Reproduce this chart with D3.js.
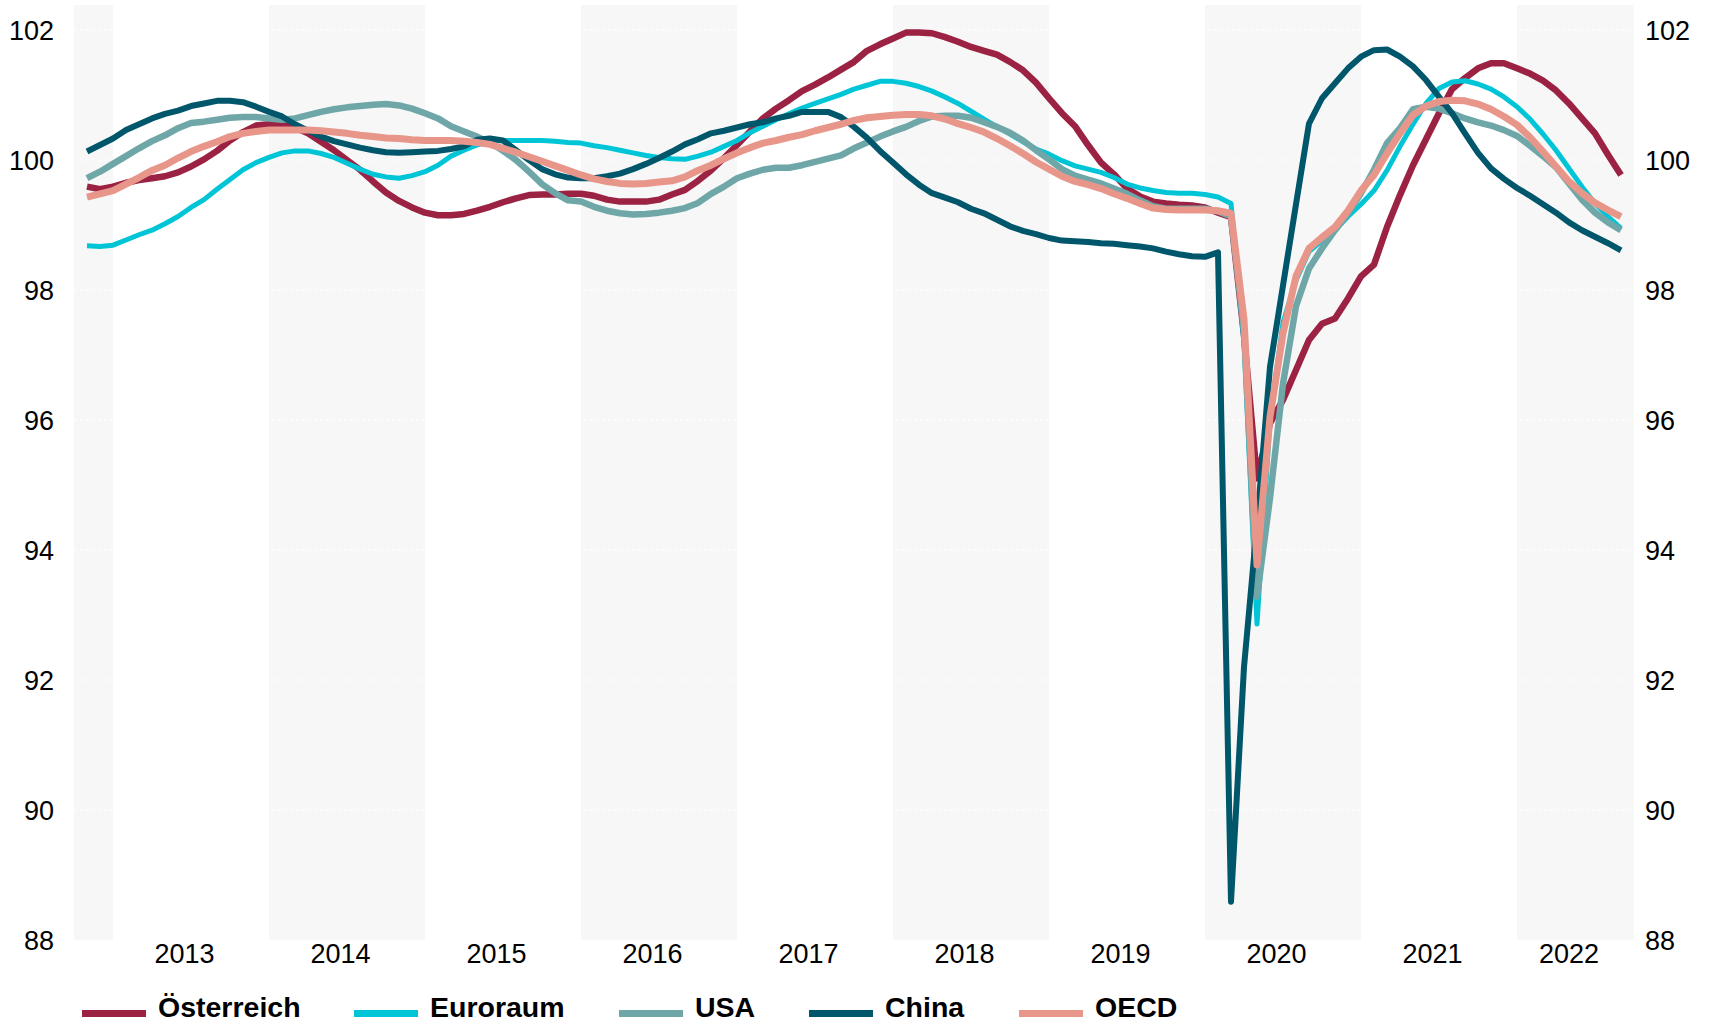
<!DOCTYPE html>
<html>
<head>
<meta charset="utf-8">
<script src="https://cdn.jsdelivr.net/npm/d3@7/dist/d3.min.js"></script>
<style>
  body { margin: 0; background: #fff; }
  text { font-family: "Liberation Sans", Arial, sans-serif; fill: #000; }
</style>
</head>
<body>
<div id="chart"></div>
<script>
// monthly points Nov 2012 .. Sep 2022
var months = d3.timeMonth.range(new Date(2012, 10, 1), new Date(2022, 9, 1));
var yearLabels = [2013, 2014, 2015, 2016, 2017, 2018, 2019, 2020, 2021, 2022];
var shadedYears = [2012, 2014, 2016, 2018, 2020, 2022];
var yTicks = [88, 90, 92, 94, 96, 98, 100, 102];

var seriesNames = ["Österreich", "Euroraum", "USA", "China", "OECD"];
var seriesColors = ["#9b2243", "#00c5d7", "#6fa7a9", "#00566a", "#e8968a"];
var seriesWidths = [6.5, 5, 6.5, 6, 7];

var oesterreich = [99.59, 99.55, 99.59, 99.65, 99.69, 99.72, 99.75, 99.81, 99.90, 100.01, 100.14, 100.30, 100.43, 100.53, 100.55, 100.55, 100.50, 100.41, 100.28, 100.15, 100.00, 99.85, 99.67, 99.50, 99.37, 99.27, 99.19, 99.15, 99.15, 99.17, 99.22, 99.28, 99.35, 99.41, 99.46, 99.47, 99.47, 99.48,
  99.48, 99.45, 99.39, 99.36, 99.36, 99.36, 99.39, 99.47, 99.54, 99.68, 99.84, 100.03, 100.23, 100.44, 100.64, 100.79, 100.92, 101.06, 101.16, 101.27, 101.39, 101.51, 101.68, 101.78, 101.87, 101.96, 101.96, 101.95, 101.89, 101.82, 101.74, 101.68, 101.62, 101.51, 101.38, 101.19, 100.95, 100.72,
  100.52, 100.23, 99.96, 99.78, 99.56, 99.44, 99.36, 99.33, 99.31, 99.30, 99.27, 99.19, 99.12,
  97.3, 95.1, 95.95, 96.31, 96.77, 97.23, 97.48, 97.56, 97.87, 98.21, 98.39, 98.97, 99.46, 99.92, 100.32, 100.72, 101.09, 101.26, 101.41, 101.49, 101.49, 101.41, 101.33, 101.22, 101.07, 100.87, 100.64, 100.41, 100.08, 99.77];

var euroraum = [98.68, 98.67, 98.69, 98.77, 98.85, 98.92, 99.02, 99.13, 99.27, 99.39, 99.55, 99.70, 99.85, 99.96, 100.04, 100.11, 100.14, 100.14, 100.10, 100.04, 99.95, 99.86, 99.78, 99.74, 99.72, 99.76, 99.82, 99.92, 100.06, 100.15, 100.23, 100.29, 100.30, 100.30, 100.30, 100.30, 100.29, 100.27,
  100.26, 100.22, 100.19, 100.15, 100.11, 100.07, 100.04, 100.02, 100.01, 100.06, 100.12, 100.21, 100.30, 100.42, 100.52, 100.62, 100.71, 100.80, 100.87, 100.94, 101.01, 101.09, 101.15, 101.21, 101.21, 101.18, 101.13, 101.06, 100.97, 100.87, 100.75, 100.63, 100.51, 100.40, 100.28, 100.17, 100.09, 99.99,
  99.91, 99.86, 99.81, 99.73, 99.63, 99.57, 99.53, 99.50, 99.49, 99.49, 99.47, 99.43, 99.33,
  97.2, 92.86, 96.0, 97.5, 98.15, 98.59, 98.76, 98.92, 99.13, 99.32, 99.53, 99.84, 100.21, 100.55, 100.87, 101.10, 101.20, 101.22, 101.17, 101.09, 100.97, 100.82, 100.63, 100.40, 100.15, 99.87, 99.59, 99.33, 99.13, 98.95];

var usa = [99.72, 99.82, 99.94, 100.06, 100.18, 100.29, 100.38, 100.49, 100.57, 100.59, 100.62, 100.65, 100.66, 100.66, 100.64, 100.62, 100.64, 100.69, 100.74, 100.78, 100.81, 100.83, 100.85, 100.86, 100.84, 100.79, 100.72, 100.64, 100.52, 100.44, 100.36, 100.27, 100.14, 100.00, 99.82, 99.63, 99.49, 99.38,
  99.36, 99.28, 99.22, 99.18, 99.16, 99.17, 99.19, 99.22, 99.26, 99.34, 99.48, 99.59, 99.72, 99.79, 99.85, 99.88, 99.88, 99.92, 99.97, 100.02, 100.07, 100.18, 100.27, 100.36, 100.44, 100.51, 100.60, 100.67, 100.68, 100.68, 100.65, 100.58, 100.51, 100.42, 100.30, 100.15, 100.01, 99.86,
  99.76, 99.70, 99.64, 99.56, 99.48, 99.38, 99.29, 99.25, 99.25, 99.25, 99.25, 99.21, 99.13,
  97.4, 93.28, 94.8, 96.56, 97.75, 98.33, 98.64, 98.92, 99.18, 99.49, 99.85, 100.26, 100.49, 100.78, 100.82, 100.79, 100.72, 100.64, 100.58, 100.53, 100.46, 100.37, 100.22, 100.06, 99.89, 99.64, 99.39, 99.19, 99.04, 98.92];

var china = [100.13, 100.23, 100.33, 100.46, 100.55, 100.64, 100.71, 100.76, 100.83, 100.87, 100.91, 100.91, 100.89, 100.82, 100.74, 100.67, 100.55, 100.45, 100.36, 100.29, 100.24, 100.19, 100.15, 100.12, 100.11, 100.12, 100.13, 100.14, 100.17, 100.21, 100.31, 100.33, 100.30, 100.15, 100.00, 99.86, 99.78, 99.73,
  99.72, 99.72, 99.75, 99.79, 99.86, 99.94, 100.03, 100.13, 100.24, 100.32, 100.41, 100.45, 100.50, 100.55, 100.58, 100.64, 100.68, 100.74, 100.74, 100.74, 100.66, 100.51, 100.34, 100.14, 99.96, 99.78, 99.62, 99.49, 99.42, 99.35, 99.25, 99.18, 99.08, 98.98, 98.91, 98.86, 98.80, 98.76,
  98.75, 98.74, 98.72, 98.71, 98.69, 98.67, 98.64, 98.59, 98.55, 98.52, 98.51, 98.58, 88.59,
  92.2, 94.4, 96.82, 98.07, 99.32, 100.56, 100.95, 101.18, 101.41, 101.59, 101.69, 101.70, 101.59, 101.44, 101.23, 100.97, 100.72, 100.41, 100.11, 99.87, 99.71, 99.57, 99.45, 99.32, 99.19, 99.04, 98.92, 98.82, 98.72, 98.61];

var oecd = [99.43, 99.48, 99.53, 99.63, 99.73, 99.84, 99.92, 100.03, 100.13, 100.21, 100.28, 100.36, 100.41, 100.44, 100.46, 100.46, 100.46, 100.46, 100.45, 100.43, 100.41, 100.38, 100.36, 100.34, 100.33, 100.31, 100.30, 100.30, 100.30, 100.29, 100.27, 100.24, 100.18, 100.12, 100.05, 99.98, 99.91, 99.84,
  99.77, 99.71, 99.67, 99.64, 99.63, 99.64, 99.66, 99.68, 99.74, 99.84, 99.92, 100.02, 100.11, 100.19, 100.26, 100.30, 100.35, 100.39, 100.45, 100.50, 100.55, 100.61, 100.65, 100.67, 100.69, 100.70, 100.70, 100.68, 100.63, 100.56, 100.50, 100.43, 100.33, 100.22, 100.10, 99.97, 99.86, 99.75,
  99.67, 99.62, 99.56, 99.48, 99.41, 99.33, 99.26, 99.24, 99.23, 99.23, 99.23, 99.22, 99.18,
  97.55, 93.77, 96.05, 97.33, 98.21, 98.64, 98.81, 98.97, 99.22, 99.53, 99.77, 100.10, 100.41, 100.69, 100.83, 100.90, 100.92, 100.91, 100.86, 100.78, 100.67, 100.54, 100.35, 100.13, 99.90, 99.67, 99.49, 99.34, 99.23, 99.13];

var allSeries = [oesterreich, euroraum, usa, china, oecd];

//Dimensions
var width = 1713, height = 1022;
var plotLeft = 74, plotRight = 1634, plotTop = 5, plotBottom = 940;

var svg = d3.select("#chart")
  .append("svg")
  .attr("width", width)
  .attr("height", height);

// x: month index, one step = one month, axis padded by one month each side
var x = d3.scaleLinear()
  .domain([-1, months.length])
  .range([plotLeft, plotRight]);

var y = d3.scaleLinear()
  .domain([88, 102])
  .range([plotBottom, 30]);

function janIndex(year) {
  return (year - 2012) * 12 - 10;
}

// shaded year bands
svg.append("g").selectAll("rect")
  .data(shadedYears)
  .enter()
  .append("rect")
  .attr("x", function(d) { return x(Math.max(janIndex(d), -1)); })
  .attr("width", function(d) { return x(Math.min(janIndex(d + 1), months.length)) - x(Math.max(janIndex(d), -1)); })
  .attr("y", plotTop)
  .attr("height", plotBottom - plotTop)
  .attr("fill", "#f7f7f7");

// faint dotted gridlines
svg.append("g").selectAll("line")
  .data(yTicks)
  .enter()
  .append("line")
  .attr("x1", plotLeft)
  .attr("x2", plotRight)
  .attr("y1", function(d) { return y(d); })
  .attr("y2", function(d) { return y(d); })
  .attr("stroke", "#ffffff")
  .attr("stroke-width", 1)
  .attr("stroke-dasharray", "3,3");

// y labels both sides
var yLeft = svg.append("g");
yLeft.selectAll("text")
  .data(yTicks)
  .enter()
  .append("text")
  .attr("x", 54)
  .attr("y", function(d) { return y(d); })
  .attr("dy", "0.36em")
  .attr("text-anchor", "end")
  .style("font-size", "27px")
  .text(function(d) { return d; });

var yRight = svg.append("g");
yRight.selectAll("text")
  .data(yTicks)
  .enter()
  .append("text")
  .attr("x", 1645)
  .attr("y", function(d) { return y(d); })
  .attr("dy", "0.36em")
  .attr("text-anchor", "start")
  .style("font-size", "27px")
  .text(function(d) { return d; });

// year labels centred on that year's points
svg.append("g").selectAll("text")
  .data(yearLabels)
  .enter()
  .append("text")
  .attr("x", function(d) {
    var idx = [];
    months.forEach(function(m, i) { if (m.getFullYear() == d) idx.push(i); });
    return (x(idx[0]) + x(idx[idx.length - 1])) / 2;
  })
  .attr("y", 963)
  .attr("text-anchor", "middle")
  .style("font-size", "27px")
  .text(function(d) { return d; });

// lines
var line = d3.line()
  .x(function(d, i) { return x(i); })
  .y(function(d) { return y(d); });

svg.append("g").selectAll("path")
  .data(allSeries)
  .enter()
  .append("path")
  .attr("d", function(d) { return line(d); })
  .attr("fill", "none")
  .attr("stroke", function(d, i) { return seriesColors[i]; })
  .attr("stroke-width", function(d, i) { return seriesWidths[i]; })
  .attr("stroke-linejoin", "round");

// legend, item slots as in the layout
var legendSlots = [82, 354, 619, 809, 1019];
var legend = svg.append("g").selectAll("g")
  .data(seriesNames)
  .enter()
  .append("g")
  .attr("transform", function(d, i) { return "translate(" + legendSlots[i] + ",0)"; });

legend.append("rect")
  .attr("x", 0)
  .attr("y", 1010)
  .attr("width", 64)
  .attr("height", 7)
  .attr("fill", function(d, i) { return seriesColors[i]; });

legend.append("text")
  .attr("x", 76)
  .attr("y", 1017)
  .style("font-size", "28.5px")
  .style("font-weight", "bold")
  .text(function(d) { return d; });
</script>
</body>
</html>
